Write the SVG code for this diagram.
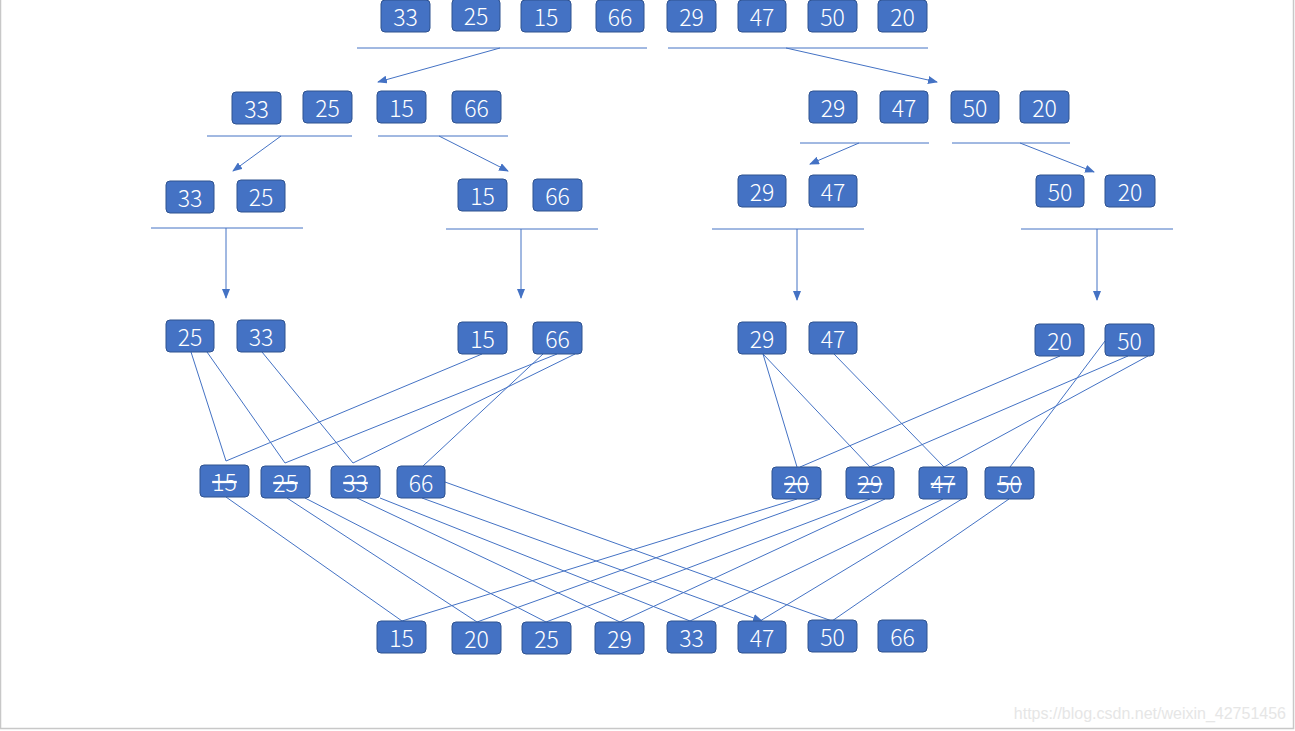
<svg xmlns="http://www.w3.org/2000/svg" width="1295" height="731" viewBox="0 0 1295 731">
<style>
.b rect{fill:#4472C4;stroke:#2F528F;stroke-width:1}
.b text{fill:#fff;font-family:"Noto Sans CJK SC","Noto Sans",sans-serif;font-weight:300;font-size:23px;text-anchor:middle;dominant-baseline:central}
.s text{text-decoration:line-through}
.c line{stroke:#4472C4;stroke-width:1}
.wm{fill:#e6e6e6;font-family:"Liberation Sans",Arial,sans-serif;font-size:16px}
</style>
<defs>
<marker id="ah" markerUnits="userSpaceOnUse" markerWidth="10" markerHeight="8" refX="9" refY="4" orient="auto">
<path d="M0,0 L10,4 L0,8 Z" fill="#4472C4"/>
</marker>
</defs>
<rect x="0.5" y="-2" width="1293" height="730.5" fill="#fff" stroke="#c8c8c8" stroke-width="1.5"/>

<g class="c" id="connectors">
<line x1="357" y1="48" x2="647" y2="48"/>
<line x1="668" y1="48" x2="928" y2="48"/>
<line x1="500" y1="48" x2="378" y2="82" marker-end="url(#ah)"/>
<line x1="786" y1="48" x2="937" y2="82" marker-end="url(#ah)"/>

<line x1="207" y1="136" x2="352" y2="136"/>
<line x1="378" y1="136" x2="508" y2="136"/>
<line x1="800" y1="143" x2="929" y2="143"/>
<line x1="952" y1="143" x2="1070" y2="143"/>
<line x1="281" y1="136" x2="233" y2="171" marker-end="url(#ah)"/>
<line x1="439" y1="136" x2="508" y2="171" marker-end="url(#ah)"/>
<line x1="859" y1="143" x2="810" y2="164" marker-end="url(#ah)"/>
<line x1="1020" y1="143" x2="1094" y2="172" marker-end="url(#ah)"/>

<line x1="151" y1="228" x2="303" y2="228"/>
<line x1="446" y1="229" x2="598" y2="229"/>
<line x1="712" y1="229" x2="864" y2="229"/>
<line x1="1021" y1="229" x2="1173" y2="229"/>
<line x1="226" y1="228" x2="226" y2="298" marker-end="url(#ah)"/>
<line x1="521" y1="229" x2="521" y2="298" marker-end="url(#ah)"/>
<line x1="797" y1="229" x2="797" y2="300" marker-end="url(#ah)"/>
<line x1="1097" y1="229" x2="1097" y2="300" marker-end="url(#ah)"/>

<line x1="191" y1="352" x2="226" y2="461"/>
<line x1="207" y1="352" x2="285" y2="463"/>
<line x1="262" y1="352" x2="353" y2="463"/>
<line x1="482" y1="354" x2="226" y2="461"/>
<line x1="557" y1="354" x2="285" y2="463"/>
<line x1="575" y1="354" x2="353" y2="463"/>
<line x1="543" y1="354" x2="423" y2="466"/>

<line x1="763" y1="354" x2="797" y2="467"/>
<line x1="763" y1="354" x2="870" y2="467"/>
<line x1="834" y1="354" x2="944" y2="467"/>
<line x1="1060" y1="356" x2="800" y2="467"/>
<line x1="1128" y1="356" x2="870" y2="467"/>
<line x1="1148" y1="356" x2="944" y2="467"/>
<line x1="1105" y1="341" x2="1010" y2="467"/>

<line x1="226" y1="497" x2="402" y2="621"/>
<line x1="287" y1="498" x2="477" y2="622"/>
<line x1="305" y1="498" x2="546" y2="622"/>
<line x1="357" y1="498" x2="620" y2="622"/>
<line x1="380" y1="498" x2="690" y2="621"/>
<line x1="422" y1="498" x2="762" y2="621" marker-end="url(#ah)"/>
<line x1="445" y1="482" x2="832" y2="621"/>
<line x1="797" y1="499" x2="402" y2="621"/>
<line x1="820" y1="499" x2="477" y2="622"/>
<line x1="870" y1="499" x2="546" y2="622"/>
<line x1="885" y1="499" x2="620" y2="622"/>
<line x1="943" y1="499" x2="690" y2="621"/>
<line x1="962" y1="499" x2="760" y2="621"/>
<line x1="1009" y1="499" x2="832" y2="621"/>
</g>

<g class="b">
<g id="r1-33"><rect x="381" y="0" width="49" height="32" rx="4"/><text x="405.5" y="16">33</text></g>
<g id="r1-25"><rect x="452" y="-1" width="48" height="32" rx="4"/><text x="476" y="15">25</text></g>
<g id="r1-15"><rect x="521" y="0" width="50" height="32" rx="4"/><text x="546" y="16">15</text></g>
<g id="r1-66"><rect x="596" y="0" width="48" height="32" rx="4"/><text x="620" y="16">66</text></g>
<g id="r1-29"><rect x="667" y="0" width="49" height="32" rx="4"/><text x="691.5" y="16">29</text></g>
<g id="r1-47"><rect x="738" y="0" width="48" height="32" rx="4"/><text x="762" y="16">47</text></g>
<g id="r1-50"><rect x="808" y="0" width="49" height="32" rx="4"/><text x="832.5" y="16">50</text></g>
<g id="r1-20"><rect x="878" y="0" width="49" height="32" rx="4"/><text x="902.5" y="16">20</text></g>

<g id="r2-33"><rect x="232" y="92" width="49" height="32" rx="4"/><text x="256.5" y="108">33</text></g>
<g id="r2-25"><rect x="303" y="91" width="49" height="32" rx="4"/><text x="327.5" y="107">25</text></g>
<g id="r2-15"><rect x="377" y="91" width="49" height="32" rx="4"/><text x="401.5" y="107">15</text></g>
<g id="r2-66"><rect x="452" y="91" width="49" height="32" rx="4"/><text x="476.5" y="107">66</text></g>
<g id="r2-29"><rect x="809" y="91" width="48" height="32" rx="4"/><text x="833" y="107">29</text></g>
<g id="r2-47"><rect x="880" y="91" width="48" height="32" rx="4"/><text x="904" y="107">47</text></g>
<g id="r2-50"><rect x="951" y="91" width="48" height="32" rx="4"/><text x="975" y="107">50</text></g>
<g id="r2-20"><rect x="1020" y="91" width="49" height="32" rx="4"/><text x="1044.5" y="107">20</text></g>

<g id="r3-33"><rect x="166" y="181" width="48" height="32" rx="4"/><text x="190" y="197">33</text></g>
<g id="r3-25"><rect x="237" y="180" width="48" height="32" rx="4"/><text x="261" y="196">25</text></g>
<g id="r3-15"><rect x="458" y="179" width="49" height="32" rx="4"/><text x="482.5" y="195">15</text></g>
<g id="r3-66"><rect x="533" y="179" width="49" height="32" rx="4"/><text x="557.5" y="195">66</text></g>
<g id="r3-29"><rect x="738" y="175" width="48" height="32" rx="4"/><text x="762" y="191">29</text></g>
<g id="r3-47"><rect x="809" y="175" width="48" height="32" rx="4"/><text x="833" y="191">47</text></g>
<g id="r3-50"><rect x="1036" y="175" width="48" height="32" rx="4"/><text x="1060" y="191">50</text></g>
<g id="r3-20"><rect x="1105" y="175" width="50" height="32" rx="4"/><text x="1130" y="191">20</text></g>

<g id="r4-25"><rect x="166" y="320" width="48" height="32" rx="4"/><text x="190" y="336">25</text></g>
<g id="r4-33"><rect x="237" y="320" width="48" height="32" rx="4"/><text x="261" y="336">33</text></g>
<g id="r4-15"><rect x="458" y="322" width="49" height="32" rx="4"/><text x="482.5" y="338">15</text></g>
<g id="r4-66"><rect x="533" y="322" width="49" height="32" rx="4"/><text x="557.5" y="338">66</text></g>
<g id="r4-29"><rect x="738" y="322" width="48" height="32" rx="4"/><text x="762" y="338">29</text></g>
<g id="r4-47"><rect x="809" y="322" width="48" height="32" rx="4"/><text x="833" y="338">47</text></g>
<g id="r4-20"><rect x="1035" y="324" width="49" height="32" rx="4"/><text x="1059.5" y="340">20</text></g>
<g id="r4-50"><rect x="1105" y="324" width="49" height="32" rx="4"/><text x="1129.5" y="340">50</text></g>

<g id="r5-15" class="s"><rect x="200" y="465" width="49" height="32" rx="4"/><text x="224.5" y="481">15</text></g>
<g id="r5-25" class="s"><rect x="261" y="466" width="49" height="32" rx="4"/><text x="285.5" y="482">25</text></g>
<g id="r5-33" class="s"><rect x="331" y="466" width="49" height="32" rx="4"/><text x="355.5" y="482">33</text></g>
<g id="r5-66"><rect x="397" y="466" width="48" height="32" rx="4"/><text x="421" y="482">66</text></g>
<g id="r5-20" class="s"><rect x="772" y="467" width="49" height="32" rx="4"/><text x="796.5" y="483">20</text></g>
<g id="r5-29" class="s"><rect x="846" y="467" width="48" height="32" rx="4"/><text x="870" y="483">29</text></g>
<g id="r5-47" class="s"><rect x="919" y="467" width="48" height="32" rx="4"/><text x="943" y="483">47</text></g>
<g id="r5-50" class="s"><rect x="985" y="467" width="49" height="32" rx="4"/><text x="1009.5" y="483">50</text></g>

<g id="r6-15"><rect x="377" y="621" width="49" height="32" rx="4"/><text x="401.5" y="637">15</text></g>
<g id="r6-20"><rect x="452" y="622" width="49" height="32" rx="4"/><text x="476.5" y="638">20</text></g>
<g id="r6-25"><rect x="522" y="622" width="49" height="32" rx="4"/><text x="546.5" y="638">25</text></g>
<g id="r6-29"><rect x="595" y="622" width="49" height="32" rx="4"/><text x="619.5" y="638">29</text></g>
<g id="r6-33"><rect x="667" y="621" width="49" height="32" rx="4"/><text x="691.5" y="637">33</text></g>
<g id="r6-47"><rect x="738" y="621" width="48" height="32" rx="4"/><text x="762" y="637">47</text></g>
<g id="r6-50"><rect x="808" y="620" width="49" height="32" rx="4"/><text x="832.5" y="636">50</text></g>
<g id="r6-66"><rect x="878" y="620" width="49" height="32" rx="4"/><text x="902.5" y="636">66</text></g>
</g>

<text class="wm" x="1286" y="719" text-anchor="end">https://blog.csdn.net/weixin_42751456</text>
</svg>
